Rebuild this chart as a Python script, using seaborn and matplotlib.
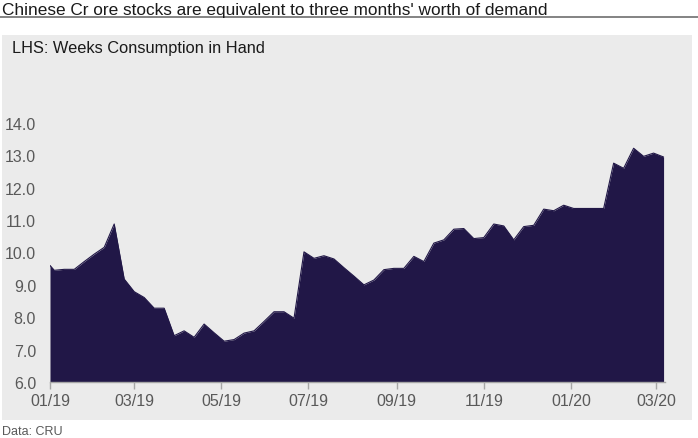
import numpy as np
import pandas as pd
import matplotlib
matplotlib.use("Agg")
import matplotlib.pyplot as plt
import matplotlib.dates as mdates
from matplotlib.patches import Rectangle
import seaborn as sns

# weekly stock readings (Fridays), plus the axis start point
dates = ["2019-01-01"] + list(pd.date_range("2019-01-04", "2020-03-06", freq="7D").strftime("%Y-%m-%d"))
weeks_in_hand = [9.60, 9.45, 9.48, 9.48, 9.72, 9.95, 10.16, 10.88, 9.18,
                 8.79, 8.61, 8.28, 8.28, 7.43, 7.58, 7.38, 7.79, 7.52,
                 7.26, 7.31, 7.51, 7.58, 7.87, 8.17, 8.17, 7.97, 10.02,
                 9.82, 9.90, 9.80, 9.53, 9.27, 9.00, 9.15, 9.47, 9.51, 9.51,
                 9.88, 9.72, 10.29, 10.39, 10.72, 10.74, 10.43, 10.46, 10.88,
                 10.82, 10.39, 10.80, 10.84, 11.34, 11.29, 11.46, 11.36, 11.36,
                 11.36, 11.36, 12.76, 12.60, 13.22, 12.97, 13.07, 12.95]
y_ticks = [6.0, 7.0, 8.0, 9.0, 10.0, 11.0, 12.0, 13.0, 14.0]

df = pd.DataFrame({"date": pd.to_datetime(dates), "weeks": weeks_in_hand})

sns.set_theme(style="white")
plt.rcParams["font.family"] = ["Liberation Sans", "DejaVu Sans"]

fill_col = "#211747"
panel_col = "#ebebeb"
text_col = "#595959"

fig = plt.figure(figsize=(6.98, 4.39), dpi=100)
fig.patch.set_facecolor("white")

# grey panel behind the chart
fig.add_artist(Rectangle((2/698, 18/439), 690/698, 385/439, transform=fig.transFigure,
                         facecolor=panel_col, edgecolor="none", zorder=-10))
# title rule
fig.add_artist(plt.Line2D([0, 1], [1 - 18/439, 1 - 18/439], transform=fig.transFigure,
                          color="#6e6e6e", lw=1.2))

ax = fig.add_axes([50/698, 56/439, 615/698, 259/439])
ax.set_facecolor("none")
ax.set_zorder(5)

sns.lineplot(data=df, x="date", y="weeks", ax=ax, color=fill_col, lw=0.8)
ax.fill_between(df["date"], 6.0, df["weeks"], color=fill_col, lw=0)

ax.set_xlim(df["date"].iloc[0], df["date"].iloc[-1] + pd.Timedelta(days=1))
ax.set_ylim(6.0, 14.0)
ax.set_yticks(y_ticks)
ax.set_yticklabels([f"{v:.1f}" for v in y_ticks])
ax.xaxis.set_major_locator(mdates.MonthLocator(bymonth=[1, 3, 5, 7, 9, 11]))
ax.xaxis.set_major_formatter(mdates.DateFormatter("%m/%y"))
ax.set_xlabel("")
ax.set_ylabel("")

for s in ["top", "right", "left"]:
    ax.spines[s].set_visible(False)
ax.spines["bottom"].set_color("#a6a6a6")
ax.spines["bottom"].set_linewidth(1.0)
ax.tick_params(axis="x", length=5, width=1, color="#a6a6a6", labelcolor=text_col,
               labelsize=11.5, pad=3, bottom=True)
ax.tick_params(axis="y", length=0, labelsize=11.5, pad=10, labelcolor=text_col)

fig.text(2/698, 1 - 10/439, "Chinese Cr ore stocks are equivalent to three months' worth of demand",
         fontsize=12.4, color="#1a1a1a", va="center", ha="left")
fig.text(12/698, 1 - 48/439, "LHS: Weeks Consumption in Hand",
         fontsize=11.8, color="#1a1a1a", va="center", ha="left")
fig.text(2/698, 1 - 432/439, "Data: CRU", fontsize=9, color=text_col, va="center", ha="left")

plt.savefig("out.png", dpi=100)
